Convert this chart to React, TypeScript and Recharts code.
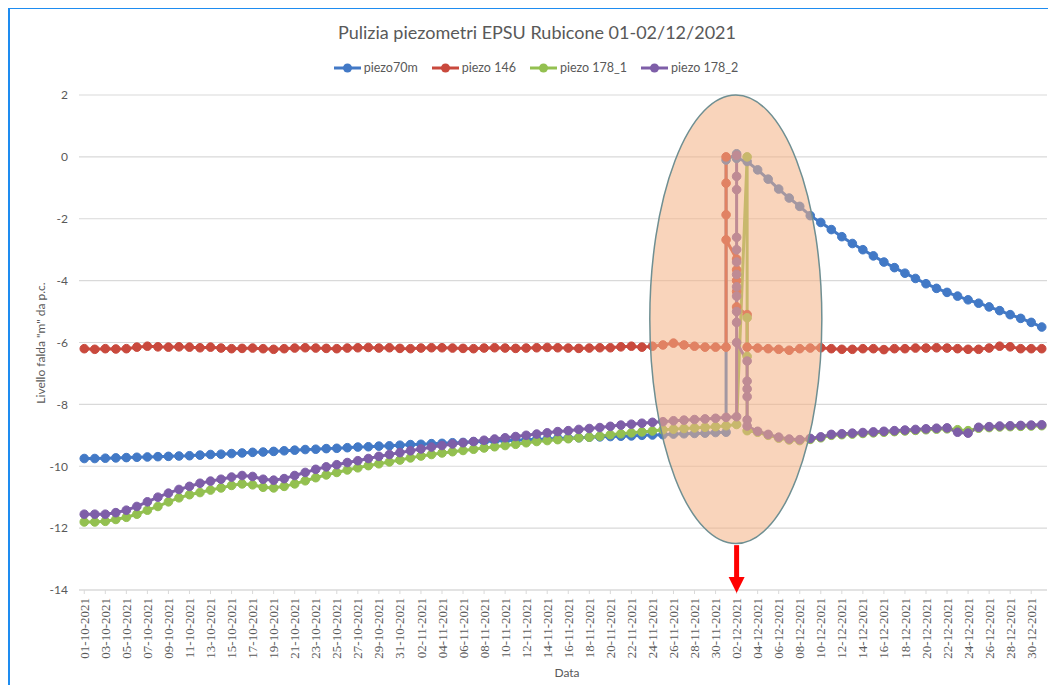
import React from "react";
import { CartesianGrid, Line, LineChart, ReferenceArea, ReferenceLine, XAxis, YAxis } from "recharts";

// day 0 = 01-10-2021, day 91 = 31-12-2021; one label every two days
const dateLabels = [
  "01-10-2021", "03-10-2021", "05-10-2021", "07-10-2021", "09-10-2021", "11-10-2021", "13-10-2021", "15-10-2021",
  "17-10-2021", "19-10-2021", "21-10-2021", "23-10-2021", "25-10-2021", "27-10-2021", "29-10-2021", "31-10-2021",
  "02-11-2021", "04-11-2021", "06-11-2021", "08-11-2021", "10-11-2021", "12-11-2021", "14-11-2021", "16-11-2021",
  "18-11-2021", "20-11-2021", "22-11-2021", "24-11-2021", "26-11-2021", "28-11-2021", "30-11-2021",
  "02-12-2021", "04-12-2021", "06-12-2021", "08-12-2021", "10-12-2021", "12-12-2021", "14-12-2021", "16-12-2021",
  "18-12-2021", "20-12-2021", "22-12-2021", "24-12-2021", "26-12-2021", "28-12-2021", "30-12-2021",
];
const tickDays = dateLabels.map((_, i) => i * 2);
const levelTicks = [-14, -12, -10, -8, -6, -4, -2, 0, 2];

// piezo70m
const blueHead = [
  -9.75, -9.75, -9.74, -9.73, -9.72, -9.71, -9.7, -9.69, -9.68, -9.67,
  -9.66, -9.64, -9.62, -9.61, -9.59, -9.57, -9.55, -9.54, -9.52, -9.5,
  -9.48, -9.46, -9.45, -9.43, -9.42, -9.4, -9.38, -9.37, -9.35, -9.34,
  -9.32, -9.3, -9.29, -9.27, -9.26, -9.24, -9.23, -9.21, -9.2, -9.18,
  -9.17, -9.16, -9.14, -9.13, -9.12, -9.1, -9.09, -9.08, -9.06, -9.05,
  -9.04, -9.03, -9.02, -9.0, -8.99, -8.98, -8.96, -8.95, -8.94, -8.93,
  -8.91, -8.9,
];
const blueBurst: [number, number][] = [[61, -0.1], [62, 0.1], [62, -0.05]];
const blueTail = [
  -0.15, -0.42, -0.72, -1.04, -1.33, -1.6, -1.9, -2.12, -2.35, -2.58,
  -2.8, -3.0, -3.2, -3.4, -3.58, -3.76, -3.93, -4.1, -4.25, -4.38,
  -4.5, -4.62, -4.73, -4.85, -4.97, -5.1, -5.22, -5.35, -5.5,
];

// piezo 146
const redHead = [
  -6.2, -6.22, -6.2, -6.21, -6.2, -6.15, -6.12, -6.14, -6.15, -6.14,
  -6.15, -6.17, -6.15, -6.18, -6.2, -6.19, -6.18, -6.2, -6.22, -6.2,
  -6.18, -6.17, -6.18, -6.19, -6.2, -6.18, -6.17, -6.16, -6.18, -6.17,
  -6.19, -6.2, -6.18, -6.17, -6.17, -6.18, -6.19, -6.2, -6.18, -6.17,
  -6.18, -6.19, -6.18, -6.17, -6.16, -6.17, -6.18, -6.19, -6.18, -6.17,
  -6.17, -6.14, -6.12, -6.15, -6.12, -6.08, -6.02, -6.08, -6.12, -6.15,
  -6.15,
];
const redBurst: [number, number][] = [
  [61, -6.15], [61, 0.0], [61, -0.85], [61, -1.87], [61, -2.68],
  [62, -3.3], [62, -3.65], [62, -4.0], [62, -4.35], [62, -4.85],
  [63, -5.1], [63, -6.15],
];
const redTail = [
  -6.18, -6.2, -6.22, -6.25, -6.2, -6.18, -6.17, -6.2, -6.22, -6.22,
  -6.2, -6.2, -6.23, -6.2, -6.2, -6.18, -6.18, -6.17, -6.18, -6.2,
  -6.22, -6.22, -6.18, -6.12, -6.14, -6.2, -6.2, -6.2,
];

// piezo 178_1
const greenHead = [
  -11.8, -11.8, -11.78, -11.72, -11.65, -11.55, -11.42, -11.3, -11.15, -11.02,
  -10.92, -10.85, -10.77, -10.7, -10.62, -10.57, -10.6, -10.68, -10.7, -10.65,
  -10.57, -10.47, -10.37, -10.28, -10.2, -10.12, -10.05, -9.98, -9.92, -9.86,
  -9.8, -9.73, -9.67, -9.62, -9.57, -9.53, -9.49, -9.45, -9.41, -9.37,
  -9.33, -9.29, -9.24, -9.2, -9.17, -9.14, -9.11, -9.08, -9.06, -9.03,
  -8.98, -8.95, -8.92, -8.89, -8.86, -8.82, -8.8, -8.78, -8.76, -8.74,
  -8.72, -8.69, -8.65,
];
const greenBurst: [number, number][] = [[63, 0.0], [63, -5.2], [63, -6.45], [63, -8.85]];
const greenTail = [
  -8.9, -9.0, -9.09, -9.15, -9.17, -9.13, -9.08, -9.0, -8.98, -8.96,
  -8.94, -8.92, -8.9, -8.88, -8.86, -8.84, -8.82, -8.8, -8.79, -8.82,
  -8.85, -8.77, -8.75, -8.73, -8.72, -8.71, -8.7, -8.69,
];

// piezo 178_2
const purpleHead = [
  -11.55, -11.55, -11.55, -11.5, -11.42, -11.3, -11.15, -11.0, -10.87, -10.75,
  -10.65, -10.55, -10.48, -10.42, -10.35, -10.3, -10.33, -10.42, -10.45, -10.4,
  -10.3, -10.2, -10.1, -10.02, -9.95, -9.88, -9.82, -9.75, -9.68, -9.62,
  -9.56, -9.5, -9.44, -9.38, -9.33, -9.28, -9.24, -9.2, -9.16, -9.12,
  -9.08, -9.04, -9.0, -8.96, -8.92, -8.88, -8.85, -8.81, -8.78, -8.75,
  -8.71, -8.67, -8.64, -8.61, -8.58, -8.56, -8.53, -8.51, -8.49, -8.47,
  -8.45, -8.42,
];
const purpleBurst: [number, number][] = [
  [62, -8.4], [62, 0.05], [62, -0.63], [62, -1.06], [62, -2.6], [62, -3.0], [62, -3.4],
  [62, -3.8], [62, -4.2], [62, -4.5], [62, -5.0], [62, -5.35], [62, -6.0],
  [63, -6.6], [63, -7.25], [63, -7.5], [63, -7.75], [63, -8.5], [63, -8.7],
];
const purpleTail = [
  -8.87, -8.97, -9.06, -9.12, -9.14, -9.1, -9.05, -8.97, -8.95, -8.93,
  -8.91, -8.89, -8.87, -8.85, -8.83, -8.81, -8.79, -8.77, -8.76, -8.9,
  -8.93, -8.74, -8.72, -8.7, -8.69, -8.68, -8.67, -8.66,
];

type Point = { day: number; level: number };

const buildSeries = (head: number[], burst: [number, number][], tailStart: number, tail: number[]): Point[] => [
  ...head.map((level, day) => ({ day, level })),
  ...burst.map(([day, level]) => ({ day, level })),
  ...tail.map((level, i) => ({ day: tailStart + i, level })),
];

const series = [
  { name: "piezo70m", color: "#4279c6", data: buildSeries(blueHead, blueBurst, 63, blueTail) },
  { name: "piezo 146", color: "#c9493d", data: buildSeries(redHead, redBurst, 64, redTail) },
  { name: "piezo 178_1", color: "#93c050", data: buildSeries(greenHead, greenBurst, 64, greenTail) },
  { name: "piezo 178_2", color: "#7e5ea8", data: buildSeries(purpleHead, purpleBurst, 64, purpleTail) },
];

const TEXT = "#595959";
const SANS = "Lato, 'Noto Sans', sans-serif";

const DateTick = (props: any) => {
  const { x, y, payload } = props;
  const label = dateLabels[Math.round(payload.value / 2)] ?? "";
  const ty = y + 2;
  return (
    <text
      x={x}
      y={ty}
      dy="0.35em"
      textAnchor="end"
      transform={`rotate(-90, ${x}, ${ty})`}
      fill={TEXT}
      fontSize={13}
      fontFamily="'Liberation Serif', serif"
    >
      {label}
    </text>
  );
};

const Ellipse = (props: any) => {
  const { x, y, width, height } = props;
  return (
    <ellipse
      cx={x + width / 2}
      cy={y + height / 2}
      rx={width / 2}
      ry={height / 2}
      fill="#f4b183"
      fillOpacity={0.55}
      stroke="#6f8f92"
      strokeWidth={1.5}
    />
  );
};

const Arrow = (props: any) => {
  const { x1, y1, y2 } = props;
  const head = 16;
  return (
    <g>
      <line x1={x1} y1={y1} x2={x1} y2={y2 - head + 1} stroke="#ff0000" strokeWidth={5} />
      <polygon points={`${x1 - 8},${y2 - head} ${x1 + 8},${y2 - head} ${x1},${y2}`} fill="#ff0000" />
    </g>
  );
};

const LegendRow = () => (
  <div
    style={{
      position: "absolute",
      top: 60,
      left: 0,
      width: 1072,
      display: "flex",
      justifyContent: "center",
      gap: 14,
      fontFamily: SANS,
      fontSize: 12.5,
      color: TEXT,
    }}
  >
    {series.map((s) => (
      <div key={s.name} style={{ display: "flex", alignItems: "center", gap: 3 }}>
        <svg width={27} height={12}>
          <line x1={0} y1={6} x2={27} y2={6} stroke={s.color} strokeWidth={3} />
          <circle cx={13.5} cy={6} r={4.5} fill={s.color} />
        </svg>
        <span>{s.name}</span>
      </div>
    ))}
  </div>
);

export default function App() {
  return (
    <div style={{ position: "relative", width: 1056, height: 693, margin: -8, background: "#fff", overflow: "hidden" }}>
      <div style={{ position: "absolute", left: 7, top: 6, width: 1049, height: 3, background: "#1e8cf0" }} />
      <div style={{ position: "absolute", left: 7, top: 6, width: 3, height: 687, background: "#1e8cf0" }} />

      <div
        style={{
          position: "absolute",
          top: 21,
          left: 0,
          width: 1074,
          textAlign: "center",
          fontFamily: SANS,
          fontSize: 18,
          color: TEXT,
        }}
      >
        Pulizia piezometri EPSU Rubicone 01-02/12/2021
      </div>
      <LegendRow />

      <div style={{ position: "absolute", left: 0, top: 0 }}>
        <LineChart width={1056} height={693} margin={{ top: 95, right: 9, bottom: 33, left: 39 }}>
          <CartesianGrid vertical={false} stroke="#d9d9d9" strokeWidth={1.2} />
          <XAxis
            type="number"
            dataKey="day"
            domain={[-0.5, 91.5]}
            ticks={tickDays}
            interval={0}
            height={70}
            tick={DateTick}
            tickSize={4}
            tickMargin={2}
            tickLine={{ stroke: "#d9d9d9" }}
            axisLine={{ stroke: "#d9d9d9", strokeWidth: 1.2 }}
          />
          <YAxis
            type="number"
            domain={[-14, 2]}
            ticks={levelTicks}
            interval={0}
            width={40}
            axisLine={false}
            tickLine={false}
            tickMargin={5}
            tick={{ fill: TEXT, fontSize: 12, fontFamily: SANS }}
          />
          {series.map((s) => (
            <Line
              key={s.name}
              data={s.data}
              dataKey="level"
              name={s.name}
              type="linear"
              stroke={s.color}
              strokeWidth={3}
              dot={{ r: 4.3, fill: s.color, stroke: s.color, strokeWidth: 1 }}
              activeDot={false}
              isAnimationActive={false}
            />
          ))}
          <ReferenceArea x1={53.75} x2={70.1} y1={-12.5} y2={2} shape={Ellipse} ifOverflow="visible" zIndex={1500} />
          <ReferenceLine
            segment={[{ x: 62, y: -12.55 }, { x: 62, y: -14.1 }]}
            shape={Arrow}
            ifOverflow="visible"
            zIndex={1600}
          />
        </LineChart>
      </div>

      <div
        style={{
          position: "absolute",
          left: 40,
          top: 343,
          transform: "translate(-50%, -50%) rotate(-90deg)",
          whiteSpace: "nowrap",
          fontFamily: SANS,
          fontSize: 12,
          color: TEXT,
        }}
      >
        Livello falda "m" da p.c.
      </div>
      <div
        style={{
          position: "absolute",
          left: 567,
          top: 672,
          transform: "translate(-50%, -50%)",
          fontFamily: SANS,
          fontSize: 12,
          color: TEXT,
        }}
      >
        Data
      </div>
    </div>
  );
}
